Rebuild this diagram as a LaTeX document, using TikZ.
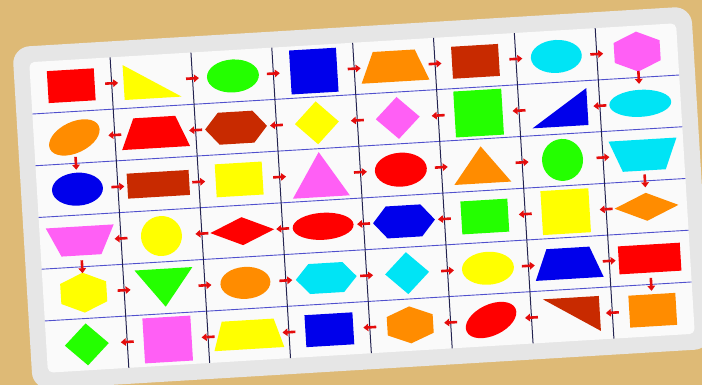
\documentclass[tikz,border=0pt]{standalone}
\usetikzlibrary{arrows.meta,calc}
\definecolor{board}{RGB}{222,186,118}
\definecolor{frame}{RGB}{230,230,230}
\definecolor{arrowred}{RGB}{228,12,12}
\definecolor{vline}{RGB}{35,35,80}
\definecolor{hline}{RGB}{80,80,205}
\definecolor{shpred}{RGB}{255,0,0}
\definecolor{shpyellow}{RGB}{255,255,0}
\definecolor{shpgreen}{RGB}{36,255,0}
\definecolor{shpblue}{RGB}{0,0,235}
\definecolor{shporange}{RGB}{255,140,0}
\definecolor{shpbrick}{RGB}{200,42,0}
\definecolor{shpcyan}{RGB}{0,228,245}
\definecolor{shppink}{RGB}{255,95,245}

\begin{document}
\begin{tikzpicture}[x=1pt, y=1pt,
    arr/.style={-{Triangle[length=5pt,width=7.5pt]}, line width=2.6pt, arrowred},
    vgrid/.style={vline, line width=1pt},
    hgrid/.style={hline, line width=0.9pt},
    pics/box/.style 2 args={code={\fill (-#1/2,-#2/2) rectangle (#1/2,#2/2);}},
    pics/oval/.style 2 args={code={\fill (0,0) ellipse [x radius=#1/2, y radius=#2/2];}},
    pics/rhomb/.style 2 args={code={\fill (-#1/2,0) -- (0,#2/2) -- (#1/2,0) -- (0,-#2/2) -- cycle;}},
    pics/trap/.style n args={3}{code={\fill (-#1/2,-#3/2) -- (#1/2,-#3/2) -- (#2/2,#3/2) -- (-#2/2,#3/2) -- cycle;}},
    pics/hexup/.style 2 args={code={\fill (0,#2/2) -- (#1/2,#2/4) -- (#1/2,-#2/4) -- (0,-#2/2) -- (-#1/2,-#2/4) -- (-#1/2,#2/4) -- cycle;}},
    pics/hexside/.style 2 args={code={\fill (-#1/2,0) -- (-0.28*#1,#2/2) -- (0.28*#1,#2/2) -- (#1/2,0) -- (0.28*#1,-#2/2) -- (-0.28*#1,-#2/2) -- cycle;}},
    pics/tri/.style 2 args={code={\fill (-#1/2,-#2/2) -- (#1/2,-#2/2) -- (0,#2/2) -- cycle;}},
    pics/corner/.style 2 args={code={\fill (-#1/2,-#2/2) -- (#1/2,-#2/2) -- (-#1/2,#2/2) -- cycle;}}]

  \useasboundingbox (0,0) rectangle (702,385);
  \fill[board] (0,0) rectangle (702,385);
  \clip (0,0) rectangle (702,385);

  \begin{scope}[shift={(362,187)}, rotate=3.45, transform shape]
    % card
    \fill[frame, rounded corners=17pt] (-340,-171.5) rectangle (340,171.5);
    \fill[white!98!black, rounded corners=5pt] (-324,-155.5) rectangle (324,155.5);

    % grid
    \foreach \k in {1,...,5}
      \draw[hgrid] (-324,{155.5-51.83*\k}) -- (324,{155.5-51.83*\k});
    \foreach \k in {1,...,7}
      \draw[vgrid] ({-324+81*\k},-155.5) -- ({-324+81*\k},155.5);

    % cell centres
    \foreach \row in {1,...,6}
      \foreach \col in {1,...,8}
        \coordinate (c\row-\col) at ({-364.5+81*\col},{181.42-51.83*\row});

    % row 1
    \pic[shpred] at (c1-1) {box={47}{32}};
    \pic[shpyellow] at (c1-2) {corner={57}{35}};
    \pic[shpgreen] at (c1-3) {oval={52}{33}};
    \pic[shpblue] at (c1-4) {box={47}{44}};
    \pic[shporange] at (c1-5) {trap={68}{42}{31}};
    \pic[shpbrick] at (c1-6) {box={47}{32}};
    \pic[shpcyan] at (c1-7) {oval={51}{33}};
    \pic[shppink] at (c1-8) {hexup={46}{40}};

    % row 2
    \pic[shporange, rotate=22] at (c2-1) {oval={54}{31}};
    \pic[shpred] at (c2-2) {trap={68}{42}{31}};
    \pic[shpbrick] at (c2-3) {hexside={62}{32}};
    \pic[shpyellow] at (c2-4) {rhomb={44}{43}};
    \pic[shppink] at (c2-5) {rhomb={44}{42}};
    \pic[shpgreen] at (c2-6) {box={48}{46}};
    \pic[shpblue, xscale=-1] at (c2-7) {corner={56}{37}};
    \pic[shpcyan] at (c2-8) {oval={62}{27}};

    % row 3
    \pic[shpblue] at (c3-1) {oval={51}{33}};
    \pic[shpbrick] at (c3-2) {box={62}{25}};
    \pic[shpyellow] at (c3-3) {box={47}{33}};
    \pic[shppink] at (c3-4) {tri={57}{45}};
    \pic[shpred] at (c3-5) {oval={52}{34}};
    \pic[shporange] at (c3-6) {tri={57}{37}};
    \pic[shpgreen] at (c3-7) {oval={41}{42}};
    \pic[shpcyan, rotate=180] at (c3-8) {trap={68}{43}{31}};

    % row 4
    \pic[shppink, rotate=180] at (c4-1) {trap={68}{40}{29}};
    \pic[shpyellow] at (c4-2) {oval={41}{40}};
    \pic[shpred] at (c4-3) {rhomb={64}{28}};
    \pic[shpred] at (c4-4) {oval={61}{27}};
    \pic[shpblue] at (c4-5) {hexside={62}{32}};
    \pic[shpgreen] at (c4-6) {box={47}{33}};
    \pic[shpyellow] at (c4-7) {box={48}{44}};
    \pic[shporange] at (c4-8) {rhomb={64}{28}};

    % row 5
    \pic[shpyellow] at (c5-1) {hexup={46}{40}};
    \pic[shpgreen, rotate=180] at (c5-2) {tri={58}{38}};
    \pic[shporange] at (c5-3) {oval={50}{32}};
    \pic[shpcyan] at (c5-4) {hexside={61}{30}};
    \pic[shpcyan] at (c5-5) {rhomb={44}{42}};
    \pic[shpyellow] at (c5-6) {oval={52}{33}};
    \pic[shpblue] at (c5-7) {trap={68}{43}{31}};
    \pic[shpred] at (c5-8) {box={62}{28}};

    % row 6
    \pic[shpgreen] at (c6-1) {rhomb={44}{42}};
    \pic[shppink] at (c6-2) {box={48}{45}};
    \pic[shpyellow] at (c6-3) {trap={70}{52}{29}};
    \pic[shpblue] at (c6-4) {box={48}{32}};
    \pic[shporange] at (c6-5) {hexup={46}{37}};
    \pic[shpred, rotate=22] at (c6-6) {oval={54}{31}};
    \pic[shpbrick, rotate=180] at (c6-7) {corner={56}{35}};
    \pic[shporange] at (c6-8) {box={47}{32}};

    % arrows, left to right
    \foreach \row in {1,3,5}
      \foreach \col/\nxt in {1/2,2/3,3/4,4/5,5/6,6/7,7/8}
        \draw[arr] ($(c\row-\col)!0.42!(c\row-\nxt)$) -- ($(c\row-\col)!0.58!(c\row-\nxt)$);
    % arrows, right to left
    \foreach \row in {2,4,6}
      \foreach \col/\nxt in {1/2,2/3,3/4,4/5,5/6,6/7,7/8}
        \draw[arr] ($(c\row-\nxt)!0.42!(c\row-\col)$) -- ($(c\row-\nxt)!0.58!(c\row-\col)$);
    % turns
    \foreach \top/\bot/\col in {1/2/8,2/3/1,3/4/8,4/5/1,5/6/8}
      \draw[arr] ($(c\top-\col)!0.375!(c\bot-\col)$) -- ($(c\top-\col)!0.625!(c\bot-\col)$);
  \end{scope}
\end{tikzpicture}
\end{document}
